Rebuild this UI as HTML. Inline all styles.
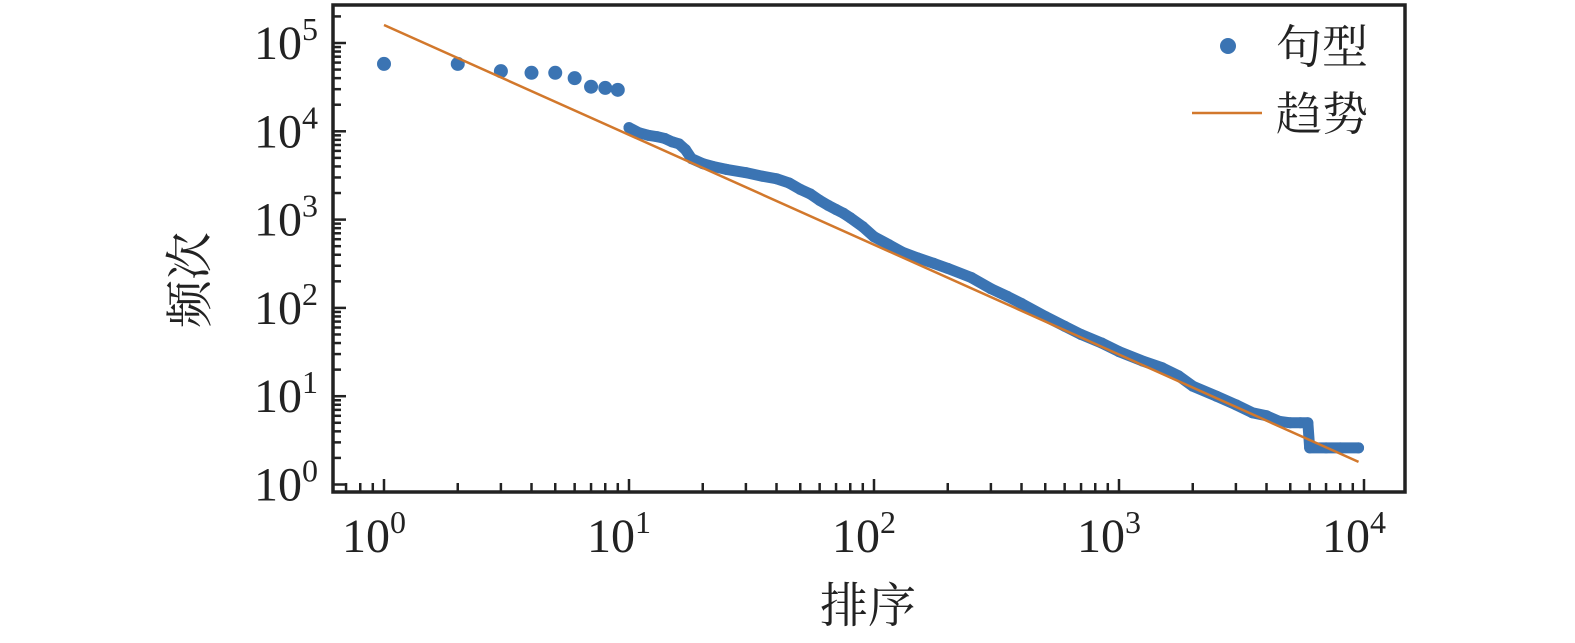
<!DOCTYPE html>
<html><head><meta charset="utf-8"><style>
html,body{margin:0;padding:0;background:#fff;}
svg text{font-family:"Liberation Serif","Noto Serif CJK SC",serif;fill:#222;}
</style></head><body>
<svg id="chart" width="1575" height="638" viewBox="0 0 1575 638" xmlns="http://www.w3.org/2000/svg">
<g id="grid"></g>
<g id="series"></g>
<g id="axes"></g>
<g id="legend">
  <circle cx="1228" cy="46" r="8" fill="#3b74b3"/>
  <text x="1276" y="63" font-size="46" font-family="Noto Serif CJK SC, serif">句型</text>
  <line x1="1192" y1="113" x2="1262" y2="113" stroke="#d2782c" stroke-width="2.5"/>
  <text x="1276" y="130" font-size="46" font-family="Noto Serif CJK SC, serif">趋势</text>
</g>
<text x="868" y="622" font-size="48" text-anchor="middle" font-family="Noto Serif CJK SC, serif">排序</text>
<text transform="translate(206,280) rotate(-90)" font-size="48" text-anchor="middle" font-family="Noto Serif CJK SC, serif">频次</text>
</svg>
<script>
const ranks = [1,2,3,4,5,6,7,8,9,10,11,12,13,14,15,16,17,18,20,22,25,30,35,40,45,50,55,60,65,70,75,80,90,100,115,130,150,175,200,250,300,350,400,500,600,700,850,1000,1250,1500,1750,2000,2500,3000,3500,4000,4500,5000,5500,5900,6000,7000,8000,9500];
const freqs = [58000,58000,48000,46000,46000,40000,32000,31000,29500,11000,9600,9000,8700,8300,7600,7200,6200,4900,4300,4000,3700,3400,3100,2900,2600,2200,1950,1650,1450,1300,1180,1050,830,640,520,430,370,320,280,220,165,135,112,80,62,50,40,32,25,21,17,13,10,8,6.5,6,5.2,5,5,5,2.6,2.6,2.6,2.6];
const trendCoef = [160000, -1.244];
const trendRange = [1, 9500];
const xTickExps = [0,1,2,3,4];
const yTickExps = [0,1,2,3,4,5];

const NS="http://www.w3.org/2000/svg";
const L=333,R=1405,T=5,B=492;
const x0=384, xDec=245, y5=43, yDec=88.3;
function xs(v){return x0+xDec*Math.log10(v);}
function ys(v){return y5+yDec*(5-Math.log10(v));}
function mk(tag,attrs,parent){const e=document.createElementNS(NS,tag);for(const k in attrs)e.setAttribute(k,attrs[k]);parent.appendChild(e);return e;}

const series=document.getElementById('series');
const tl=mk('line',{x1:xs(trendRange[0]),y1:ys(trendCoef[0]*Math.pow(trendRange[0],trendCoef[1])),x2:xs(trendRange[1]),y2:ys(trendCoef[0]*Math.pow(trendRange[1],trendCoef[1])),stroke:'#d2782c','stroke-width':2.5},series);


let pts=[];
for(let i=0;i<ranks.length;i++){if(ranks[i]>=10)pts.push(xs(ranks[i])+','+ys(freqs[i]));}
const band=mk('polyline',{points:pts.join(' '),fill:'none',stroke:'#3b74b3','stroke-width':11,'stroke-linecap':'round','stroke-linejoin':'round'},series);


for(let i=0;i<ranks.length;i++){
  const c=mk('circle',{cx:xs(ranks[i]),cy:ys(freqs[i]),r:ranks[i]<10?7:5.5,fill:'#3b74b3'},series);
  
  
}
series.appendChild(tl);

const axes=document.getElementById('axes');
const fr=mk('rect',{x:L,y:T,width:R-L,height:B-T,fill:'none',stroke:'#222','stroke-width':3.5},axes);


for(const e of xTickExps){
  for(let m=1;m<10;m++){
    const v=m*Math.pow(10,e);const x=xs(v);
    if(x<L||x>R)continue;
    const len=m===1?13:9;
    const t=mk('line',{x1:x,y1:B,x2:x,y2:B-len,stroke:'#222','stroke-width':2.5},axes);
    
    
  }
  for(let m=2;m<10;m++){const x=xs(m*Math.pow(10,e-1));if(x>L&&x<x0){mk('line',{x1:x,y1:B,x2:x,y2:B-9,stroke:'#222','stroke-width':2.5},axes);}}
  const lab=mk('text',{x:xs(Math.pow(10,e))-10,y:552,'font-size':48,'text-anchor':'middle'},axes);
  
  
  lab.textContent='10';
  const sup=mk('tspan',{dy:-19,'font-size':32},lab);sup.textContent=String(e);
}
for(const e of yTickExps){
  for(let m=1;m<10;m++){
    const v=m*Math.pow(10,e);const y=ys(v);
    if(y<T||y>B)continue;
    const len=m===1?13:8;
    const t=mk('line',{x1:L,y1:y,x2:L+len,y2:y,stroke:'#222','stroke-width':2.5},axes);
    
    
  }
  const lab=mk('text',{x:318,y:ys(Math.pow(10,e))+16,'font-size':48,'text-anchor':'end'},axes);
  
  
  lab.textContent='10';
  const sup=mk('tspan',{dy:-19,'font-size':32},lab);sup.textContent=String(e);
}
</script>
</body></html>
